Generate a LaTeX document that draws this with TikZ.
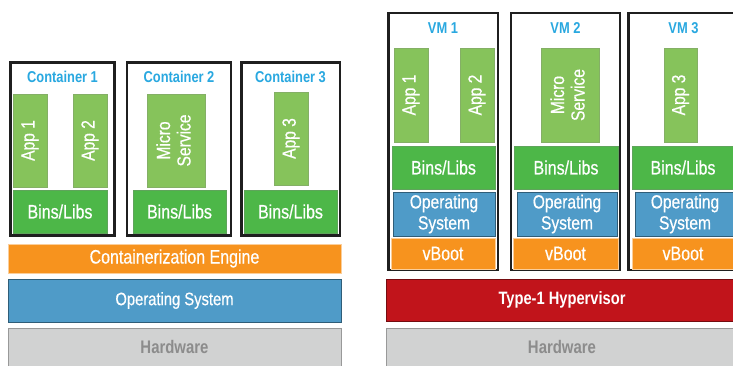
\documentclass[tikz,border=0pt]{standalone}
\usepackage{fontspec}
\setmainfont{Liberation Sans}[FakeStretch=0.82, UprightFeatures={FakeBold=0.5}]
\usepackage{graphicx}
\definecolor{appg}{HTML}{86C35B}
\definecolor{bing}{HTML}{4DB748}
\definecolor{osb}{HTML}{4F9BC8}
\definecolor{engc}{HTML}{F7931E}
\definecolor{hypc}{HTML}{C1141B}
\definecolor{hwc}{HTML}{D1D2D2}
\definecolor{ttlc}{HTML}{29A8E0}
\newcommand\bx[7]{\node[#1, minimum width={#4pt-#2pt}, minimum height={#5pt-#3pt}] (#6) at ({(#2+#4)/2},{(#3+#5)/2}) {#7};}
\newcommand\rt[1]{\rotatebox{90}{#1}}
\tikzset{
  box/.style={draw, line width=0.6pt, inner sep=0pt, outer sep=0pt, text=white, align=center, font=\fontsize{19.5}{21}\selectfont},
  appbox/.style={box, fill=appg, draw=appg!70!gray, font=\fontsize{19}{21.5}\selectfont},
  binbox/.style={box, fill=bing, draw=bing!65!gray},
  osbox/.style={box, fill=osb, draw=osb!60!black, font=\fontsize{19}{21}\selectfont},
  engbox/.style={box, fill=engc, draw=engc!45!white},
  hypbox/.style={box, fill=hypc, draw=hypc!60!black, font=\bfseries\fontsize{17.9}{20}\selectfont},
  hwbox/.style={box, fill=hwc, draw=black!40, text=black!45, font=\bfseries\fontsize{18.2}{20}\selectfont},
  contbox/.style={draw=black!88, line width=2.5pt, inner sep=0pt, fill=white},
  ttl/.style={text=ttlc, font=\bfseries\fontsize{15.7}{18}\selectfont, inner sep=0pt},
}
\begin{document}
\begin{tikzpicture}[x=1pt,y=-1pt]
\useasboundingbox (0,0) rectangle (733,366);
\fill[white] (0,0) rectangle (733,366);
\clip (0,0) rectangle (733,366);
% ---------------- left: containers
\bx{contbox}{10.5}{62.5}{114.5}{235.5}{c1}{}
\bx{contbox}{127}{62.5}{231}{235.5}{c2}{}
\bx{contbox}{241.5}{62.5}{340}{235.5}{c3}{}
\node[ttl] (tc1) at (62.5,77) {Container 1};
\node[ttl] (tc2) at (179,77) {Container 2};
\node[ttl] (tc3) at (290.5,77) {Container 3};
\bx{appbox}{13}{94}{47}{187}{ca1}{\rt{App 1}}
\bx{appbox}{73}{94}{107}{187}{ca2}{\rt{App 2}}
\bx{binbox}{13}{190}{107}{233}{cb1}{Bins/Libs}
\bx{appbox}{147}{94}{205}{187}{cms}{\rt{\begin{tabular}{@{}c@{}}Micro\\[-1pt]Service\end{tabular}}}
\bx{binbox}{133}{190}{226}{233}{cb2}{Bins/Libs}
\bx{appbox}{274}{92}{308}{185}{ca3}{\rt{App 3}}
\bx{binbox}{244}{190}{337}{233}{cb3}{Bins/Libs}
\bx{engbox}{8}{244}{341}{273}{eng}{Containerization Engine}
\bx{osbox}{8}{279}{341}{322}{los}{\fontsize{18}{20}\selectfont Operating System}
\bx{hwbox}{8}{328}{341}{375}{lhw}{\raisebox{10pt}{Hardware}}
% ---------------- right: VMs
\bx{contbox}{388.5}{13}{498}{270}{v1}{}
\bx{contbox}{511}{13}{620}{270}{v2}{}
\bx{contbox}{628.5}{13}{740}{270}{v3}{}
\node[ttl] (tv1) at (443,28) {VM 1};
\node[ttl] (tv2) at (565.5,28) {VM 2};
\node[ttl] (tv3) at (683.5,28) {VM 3};
\bx{appbox}{394}{48}{428}{142}{va1}{\rt{App 1}}
\bx{appbox}{460}{48}{494}{142}{va2}{\rt{App 2}}
\bx{binbox}{392}{146}{495}{189}{vb1}{Bins/Libs}
\bx{appbox}{541}{48}{599}{142}{vms}{\rt{\begin{tabular}{@{}c@{}}Micro\\[-1pt]Service\end{tabular}}}
\bx{binbox}{514}{146}{618}{189}{vb2}{Bins/Libs}
\bx{appbox}{664}{48}{697}{142}{va3}{\rt{App 3}}
\bx{binbox}{632}{146}{734}{189}{vb3}{Bins/Libs}
\bx{osbox}{393}{192}{495}{236}{vo1}{Operating\\System}
\bx{osbox}{517}{192}{617}{236}{vo2}{Operating\\System}
\bx{osbox}{635}{192}{735}{236}{vo3}{Operating\\System}
\bx{engbox}{391}{238}{495}{269}{vv1}{vBoot}
\bx{engbox}{513}{238}{618}{269}{vv2}{vBoot}
\bx{engbox}{632}{238}{734}{269}{vv3}{vBoot}
\bx{hypbox}{386}{279}{738}{321}{hyp}{Type-1 Hypervisor}
\bx{hwbox}{386}{328}{738}{375}{rhw}{\raisebox{10pt}{Hardware}}
\end{tikzpicture}
\end{document}
